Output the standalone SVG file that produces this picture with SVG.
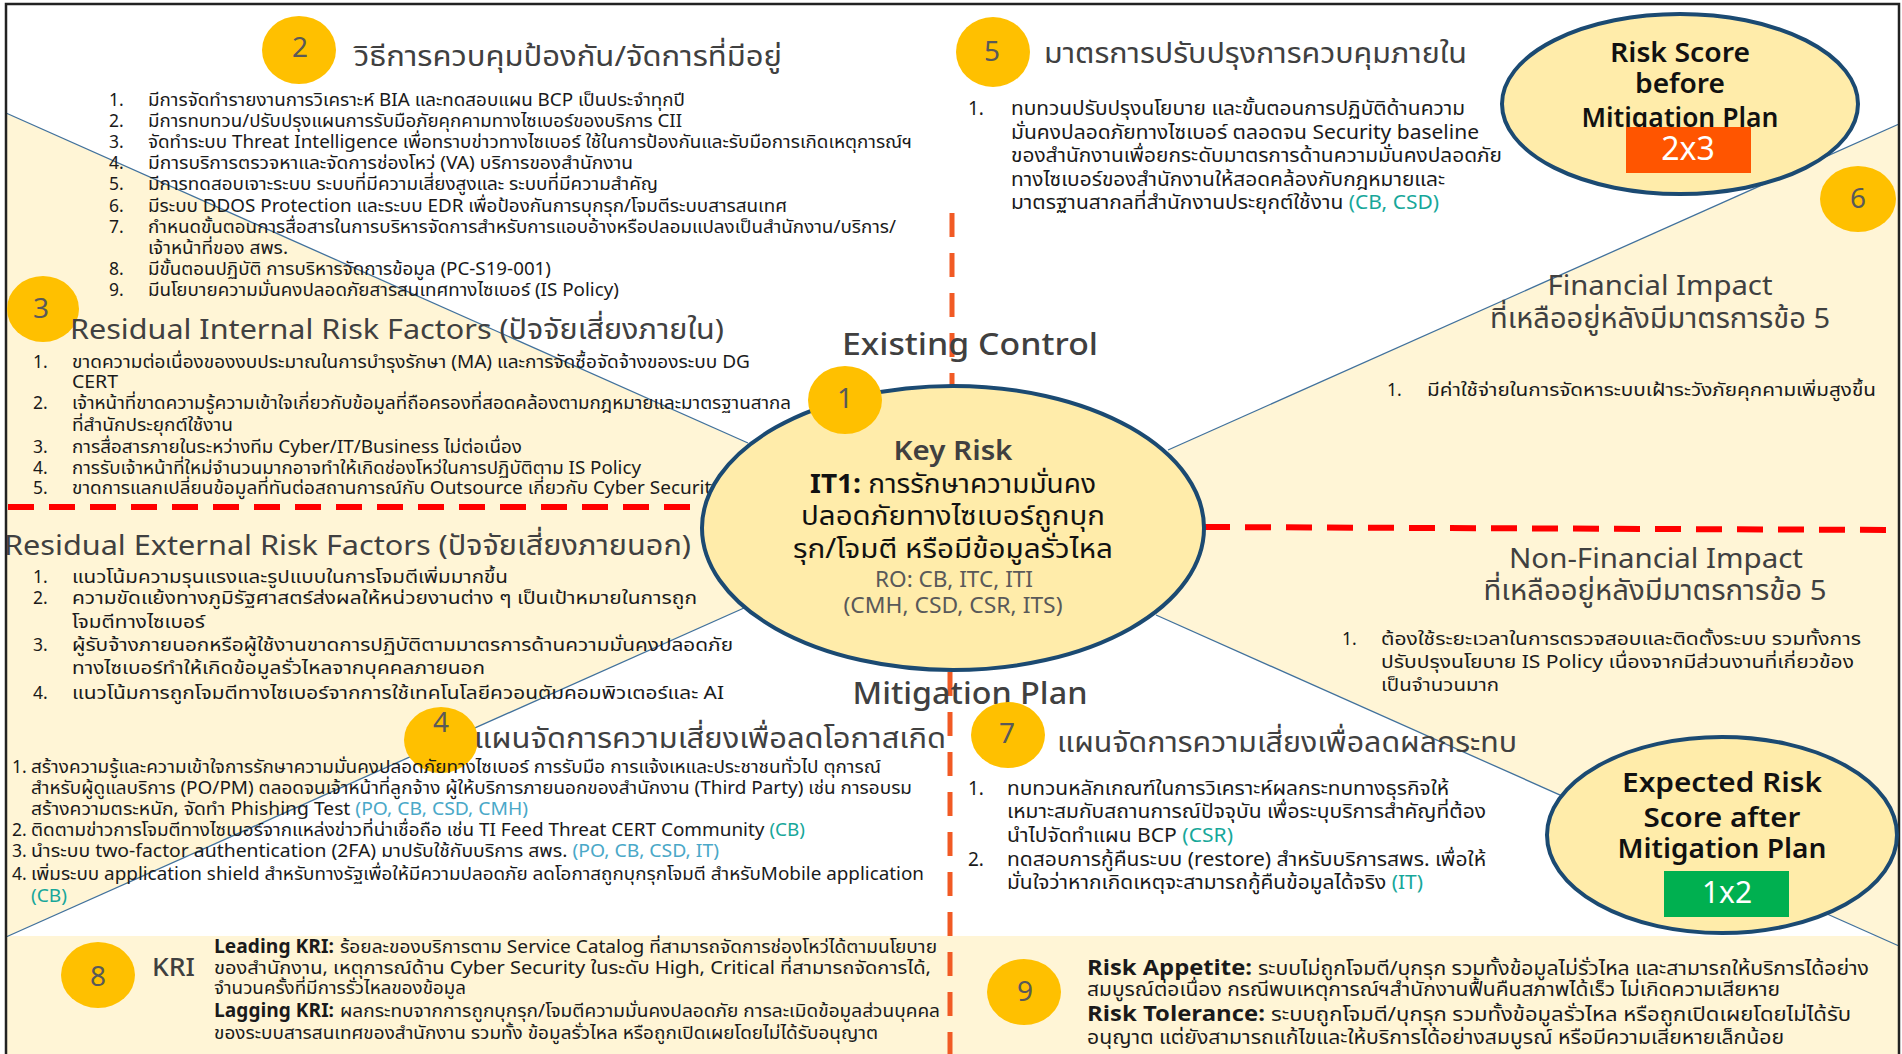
<svg xmlns="http://www.w3.org/2000/svg" width="1902" height="1054" viewBox="0 0 1902 1054">
<defs>
<style>
text{font-family:"Noto Sans Thai","Noto Sans","Liberation Sans",sans-serif}
.b{font-size:17.5px;fill:#1a1a1a}
.b19{font-size:19px;fill:#1a1a1a}
.ti{font-size:28px;fill:#404040}
.num{font-size:28px;fill:#595959;text-anchor:middle}
.c{text-anchor:middle}
.sc{font-size:27px;font-weight:600;fill:#111111;text-anchor:middle}
.teal{fill:#17A79A}
.blue{fill:#4AA8C8}
.gold{fill:#FFC000}
.thin{stroke:#41719C;stroke-width:1.3;fill:none}
.bigell{fill:#FFECAA;stroke:#1B4A72;stroke-width:4}
.red{stroke:#FF0000;stroke-width:6;stroke-dasharray:26 15;fill:none}
.ora{stroke:#F15A24;stroke-width:5;stroke-dasharray:24 16;fill:none}
</style>
</defs>
<rect x="0" y="0" width="1902" height="1054" fill="#FFFFFF"/>
<g id="backgrounds">
<polygon points="6,113 748,443 744,608 6,937" fill="#FFF5D6"/>
<polygon points="1168,450 1899,124 1899,946 1156,615" fill="#FFF5D6"/>
<rect x="6" y="936" width="1893" height="118" fill="#FFF5D6"/>
</g>
<g id="connectors">
<line class="thin" x1="6" y1="113" x2="748" y2="443"/>
<line class="thin" x1="744" y1="608" x2="6" y2="937"/>
<line class="thin" x1="1168" y1="450" x2="1899" y2="124"/>
<line class="thin" x1="1156" y1="615" x2="1899" y2="946"/>
<line class="red" x1="8" y1="507" x2="703" y2="507"/>
<line class="red" x1="1204" y1="527" x2="1892" y2="530"/>
<line class="ora" x1="952" y1="213" x2="952" y2="386"/>
<line class="ora" x1="950" y1="672" x2="950" y2="1054"/>
</g>
<rect x="6" y="4" width="1893" height="1060" fill="none" stroke="#222222" stroke-width="2.5"/>

<g id="node-section2">
<ellipse class="gold" cx="299" cy="50" rx="37" ry="34"/>
<text class="num" x="300" y="57">2</text>
<text class="ti" x="354" y="66" textLength="428" lengthAdjust="spacingAndGlyphs">วิธีการควบคุมป้องกัน/จัดการที่มีอยู่</text>
<text class="b" x="109" y="106">1.</text><text class="b" x="148" y="106" textLength="537" lengthAdjust="spacingAndGlyphs">มีการจัดทำรายงานการวิเคราะห์ BIA และทดสอบแผน BCP เป็นประจำทุกปี</text>
<text class="b" x="109" y="127">2.</text><text class="b" x="148" y="127" textLength="534" lengthAdjust="spacingAndGlyphs">มีการทบทวน/ปรับปรุงแผนการรับมือภัยคุกคามทางไซเบอร์ของบริการ CII</text>
<text class="b" x="109" y="148">3.</text><text class="b" x="148" y="148" textLength="764" lengthAdjust="spacingAndGlyphs">จัดทำระบบ Threat Intelligence เพื่อทราบข่าวทางไซเบอร์ ใช้ในการป้องกันและรับมือการเกิดเหตุการณ์ฯ</text>
<text class="b" x="109" y="169">4.</text><text class="b" x="148" y="169" textLength="485" lengthAdjust="spacingAndGlyphs">มีการบริการตรวจหาและจัดการช่องโหว่ (VA) บริการของสำนักงาน</text>
<text class="b" x="109" y="190">5.</text><text class="b" x="148" y="190" textLength="510" lengthAdjust="spacingAndGlyphs">มีการทดสอบเจาะระบบ ระบบที่มีความเสี่ยงสูงและ ระบบที่มีความสำคัญ</text>
<text class="b" x="109" y="212">6.</text><text class="b" x="148" y="212" textLength="639" lengthAdjust="spacingAndGlyphs">มีระบบ DDOS Protection และระบบ EDR เพื่อป้องกันการบุกรุก/โจมตีระบบสารสนเทศ</text>
<text class="b" x="109" y="233">7.</text><text class="b" x="148" y="233" textLength="748" lengthAdjust="spacingAndGlyphs">กำหนดขั้นตอนการสื่อสารในการบริหารจัดการสำหรับการแอบอ้างหรือปลอมแปลงเป็นสำนักงาน/บริการ/</text>
<text class="b" x="148" y="254" textLength="140" lengthAdjust="spacingAndGlyphs">เจ้าหน้าที่ของ สพร.</text>
<text class="b" x="109" y="275">8.</text><text class="b" x="148" y="275" textLength="403" lengthAdjust="spacingAndGlyphs">มีขั้นตอนปฏิบัติ การบริหารจัดการข้อมูล (PC-S19-001)</text>
<text class="b" x="109" y="296">9.</text><text class="b" x="148" y="296" textLength="471" lengthAdjust="spacingAndGlyphs">มีนโยบายความมั่นคงปลอดภัยสารสนเทศทางไซเบอร์ (IS Policy)</text>
</g>

<g id="node-section3">
<ellipse class="gold" cx="43" cy="309" rx="36" ry="33"/>
<text class="num" x="41" y="318">3</text>
<text class="ti" x="70" y="339" textLength="654" lengthAdjust="spacingAndGlyphs">Residual Internal Risk Factors (ปัจจัยเสี่ยงภายใน)</text>
<text class="b" x="33" y="368">1.</text><text class="b" x="72" y="368" textLength="678" lengthAdjust="spacingAndGlyphs">ขาดความต่อเนื่องของงบประมาณในการบำรุงรักษา (MA) และการจัดซื้อจัดจ้างของระบบ DG</text>
<text class="b" x="72" y="388" textLength="46" lengthAdjust="spacingAndGlyphs">CERT</text>
<text class="b" x="33" y="409">2.</text><text class="b" x="72" y="409" textLength="719" lengthAdjust="spacingAndGlyphs">เจ้าหน้าที่ขาดความรู้ความเข้าใจเกี่ยวกับข้อมูลที่ถือครองที่สอดคล้องตามกฎหมายและมาตรฐานสากล</text>
<text class="b" x="72" y="431" textLength="161" lengthAdjust="spacingAndGlyphs">ที่สำนักประยุกต์ใช้งาน</text>
<text class="b" x="33" y="453">3.</text><text class="b" x="72" y="453" textLength="450" lengthAdjust="spacingAndGlyphs">การสื่อสารภายในระหว่างทีม Cyber/IT/Business ไม่ต่อเนื่อง</text>
<text class="b" x="33" y="474">4.</text><text class="b" x="72" y="474" textLength="569" lengthAdjust="spacingAndGlyphs">การรับเจ้าหน้าที่ใหม่จำนวนมากอาจทำให้เกิดช่องโหว่ในการปฏิบัติตาม IS Policy</text>
<text class="b" x="33" y="494">5.</text><text class="b" x="72" y="494" textLength="649" lengthAdjust="spacingAndGlyphs">ขาดการแลกเปลี่ยนข้อมูลที่ทันต่อสถานการณ์กับ Outsource เกี่ยวกับ Cyber Security</text>
</g>

<g id="node-external">
<text class="ti" x="4" y="555" textLength="687" lengthAdjust="spacingAndGlyphs">Residual External Risk Factors (ปัจจัยเสี่ยงภายนอก)</text>
<text class="b" x="33" y="583">1.</text><text class="b" x="72" y="583" textLength="436" lengthAdjust="spacingAndGlyphs">แนวโน้มความรุนแรงและรูปแบบในการโจมตีเพิ่มมากขึ้น</text>
<text class="b" x="33" y="604">2.</text><text class="b" x="72" y="604" textLength="625" lengthAdjust="spacingAndGlyphs">ความขัดแย้งทางภูมิรัฐศาสตร์ส่งผลให้หน่วยงานต่าง ๆ เป็นเป้าหมายในการถูก</text>
<text class="b" x="72" y="628" textLength="133" lengthAdjust="spacingAndGlyphs">โจมตีทางไซเบอร์</text>
<text class="b" x="33" y="651">3.</text><text class="b" x="72" y="651" textLength="661" lengthAdjust="spacingAndGlyphs">ผู้รับจ้างภายนอกหรือผู้ใช้งานขาดการปฏิบัติตามมาตรการด้านความมั่นคงปลอดภัย</text>
<text class="b" x="72" y="674" textLength="413" lengthAdjust="spacingAndGlyphs">ทางไซเบอร์ทำให้เกิดข้อมูลรั่วไหลจากบุคคลภายนอก</text>
<text class="b" x="33" y="699">4.</text><text class="b" x="72" y="699" textLength="652" lengthAdjust="spacingAndGlyphs">แนวโน้มการถูกโจมตีทางไซเบอร์จากการใช้เทคโนโลยีควอนตัมคอมพิวเตอร์และ AI</text>
</g>

<g id="node-section4">
<ellipse class="gold" cx="441" cy="740" rx="37" ry="33"/>
<text class="num" x="441" y="732">4</text>
<text class="ti" x="474" y="748" textLength="472" lengthAdjust="spacingAndGlyphs">แผนจัดการความเสี่ยงเพื่อลดโอกาสเกิด</text>
<text class="b" x="12" y="773">1.</text><text class="b" x="31" y="773" textLength="850" lengthAdjust="spacingAndGlyphs">สร้างความรู้และความเข้าใจการรักษาความมั่นคงปลอดภัยทางไซเบอร์ การรับมือ การแจ้งเหและประชาชนทั่วไป ตุการณ์</text>
<text class="b" x="31" y="794" textLength="881" lengthAdjust="spacingAndGlyphs">สำหรับผู้ดูแลบริการ (PO/PM) ตลอดจนเจ้าหน้าที่ลูกจ้าง ผู้ให้บริการภายนอกของสำนักงาน (Third Party) เช่น การอบรม</text>
<text class="b" x="31" y="815" textLength="497" lengthAdjust="spacingAndGlyphs">สร้างความตระหนัก, จัดทำ Phishing Test  <tspan class="blue">(PO, CB, CSD, CMH)</tspan></text>
<text class="b" x="12" y="836">2.</text><text class="b" x="31" y="836" textLength="774" lengthAdjust="spacingAndGlyphs">ติดตามข่าวการโจมตีทางไซเบอร์จากแหล่งข่าวที่น่าเชื่อถือ เช่น TI Feed Threat CERT Community <tspan class="teal">(CB)</tspan></text>
<text class="b" x="12" y="857">3.</text><text class="b" x="31" y="857" textLength="688" lengthAdjust="spacingAndGlyphs">นำระบบ  two-factor authentication  (2FA) มาปรับใช้กับบริการ สพร. <tspan class="blue">(PO, CB, CSD, IT)</tspan></text>
<text class="b" x="12" y="880">4.</text><text class="b" x="31" y="880" textLength="893" lengthAdjust="spacingAndGlyphs">เพิ่มระบบ application shield สำหรับทางรัฐเพื่อให้มีความปลอดภัย ลดโอกาสถูกบุกรุกโจมตี สำหรับMobile application</text>
<text class="b teal" x="31" y="902" textLength="36" lengthAdjust="spacingAndGlyphs">(CB)</text>
</g>

<g id="node-section5">
<ellipse class="gold" cx="993" cy="52" rx="37" ry="35"/>
<text class="num" x="992" y="61">5</text>
<text class="ti" x="1044" y="63" textLength="423" lengthAdjust="spacingAndGlyphs">มาตรการปรับปรุงการควบคุมภายใน</text>
<text class="b19" x="968" y="115">1.</text><text class="b19" x="1011" y="115" textLength="454" lengthAdjust="spacingAndGlyphs">ทบทวนปรับปรุงนโยบาย และขั้นตอนการปฏิบัติด้านความ</text>
<text class="b19" x="1011" y="139" textLength="468" lengthAdjust="spacingAndGlyphs">มั่นคงปลอดภัยทางไซเบอร์ ตลอดจน Security baseline</text>
<text class="b19" x="1011" y="162" textLength="491" lengthAdjust="spacingAndGlyphs">ของสำนักงานเพื่อยกระดับมาตรการด้านความมั่นคงปลอดภัย</text>
<text class="b19" x="1011" y="186" textLength="434" lengthAdjust="spacingAndGlyphs">ทางไซเบอร์ของสำนักงานให้สอดคล้องกับกฎหมายและ</text>
<text class="b19" x="1011" y="209" textLength="428" lengthAdjust="spacingAndGlyphs">มาตรฐานสากลที่สำนักงานประยุกต์ใช้งาน <tspan class="teal">(CB, CSD)</tspan></text>
</g>

<g id="node-riskbefore">
<ellipse class="bigell" cx="1680" cy="104" rx="178" ry="90"/>
<text class="sc" x="1680" y="62" textLength="140" lengthAdjust="spacingAndGlyphs">Risk Score</text>
<text class="sc" x="1680" y="93" textLength="90" lengthAdjust="spacingAndGlyphs">before</text>
<text class="sc" x="1680" y="127" textLength="197" lengthAdjust="spacingAndGlyphs">Mitigation Plan</text>
<rect x="1626" y="127" width="125" height="46" fill="#FF5500"/>
<text class="c" x="1688" y="160" font-size="32" fill="#FFFFFF">2x3</text>
</g>

<g id="node-section6">
<ellipse class="gold" cx="1858" cy="199" rx="38" ry="33"/>
<text class="num" x="1858" y="208">6</text>
<text class="ti c" x="1660" y="295" textLength="225" lengthAdjust="spacingAndGlyphs">Financial Impact</text>
<text class="ti c" x="1660" y="328" textLength="340" lengthAdjust="spacingAndGlyphs">ที่เหลืออยู่หลังมีมาตรการข้อ 5</text>
<text class="b" x="1387" y="396">1.</text><text class="b" x="1427" y="396" textLength="449" lengthAdjust="spacingAndGlyphs">มีค่าใช้จ่ายในการจัดหาระบบเฝ้าระวังภัยคุกคามเพิ่มสูงขึ้น</text>
<text class="ti c" x="1656" y="568" textLength="294" lengthAdjust="spacingAndGlyphs">Non-Financial Impact</text>
<text class="ti c" x="1655" y="600" textLength="343" lengthAdjust="spacingAndGlyphs">ที่เหลืออยู่หลังมีมาตรการข้อ 5</text>
<text class="b" x="1342" y="645">1.</text><text class="b" x="1381" y="645" textLength="480" lengthAdjust="spacingAndGlyphs">ต้องใช้ระยะเวลาในการตรวจสอบและติดตั้งระบบ รวมทั้งการ</text>
<text class="b" x="1381" y="668" textLength="473" lengthAdjust="spacingAndGlyphs">ปรับปรุงนโยบาย IS Policy เนื่องจากมีส่วนงานที่เกี่ยวข้อง</text>
<text class="b" x="1381" y="691" textLength="118" lengthAdjust="spacingAndGlyphs">เป็นจำนวนมาก</text>
</g>

<g id="node-keyrisk">
<ellipse class="bigell" cx="953" cy="528" rx="251" ry="142"/>
<ellipse class="gold" cx="845" cy="400" rx="37" ry="34"/>
<text class="num" x="845" y="408">1</text>
<text class="c" x="953" y="460" font-size="27" font-weight="600" fill="#404040" textLength="119" lengthAdjust="spacingAndGlyphs">Key Risk</text>
<text class="c" x="953" y="493" font-size="27" fill="#111" textLength="286" lengthAdjust="spacingAndGlyphs"><tspan font-weight="700">IT1:</tspan> การรักษาความมั่นคง</text>
<text class="c" x="953" y="525" font-size="27" fill="#111" textLength="304" lengthAdjust="spacingAndGlyphs">ปลอดภัยทางไซเบอร์ถูกบุก</text>
<text class="c" x="953" y="558" font-size="27" fill="#111" textLength="320" lengthAdjust="spacingAndGlyphs">รุก/โจมตี หรือมีข้อมูลรั่วไหล</text>
<text class="c" x="954" y="587" font-size="21" fill="#595959" textLength="158" lengthAdjust="spacingAndGlyphs">RO: CB, ITC, ITI</text>
<text class="c" x="953" y="613" font-size="21" fill="#595959" textLength="219" lengthAdjust="spacingAndGlyphs">(CMH, CSD, CSR, ITS)</text>
</g>

<g id="node-labels">
<text class="c" x="970" y="355" font-size="30" font-weight="500" fill="#404040" textLength="256" lengthAdjust="spacingAndGlyphs">Existing Control</text>
<text class="c" x="970" y="704" font-size="30" font-weight="500" fill="#404040" textLength="235" lengthAdjust="spacingAndGlyphs">Mitigation Plan</text>
</g>

<g id="node-section7">
<ellipse class="gold" cx="1008" cy="735" rx="37" ry="33"/>
<text class="num" x="1007" y="743">7</text>
<text class="ti" x="1057" y="752" textLength="460" lengthAdjust="spacingAndGlyphs">แผนจัดการความเสี่ยงเพื่อลดผลกระทบ</text>
<text class="b19" x="968" y="795">1.</text><text class="b19" x="1007" y="795" textLength="442" lengthAdjust="spacingAndGlyphs">ทบทวนหลักเกณฑ์ในการวิเคราะห์ผลกระทบทางธุรกิจให้</text>
<text class="b19" x="1007" y="818" textLength="479" lengthAdjust="spacingAndGlyphs">เหมาะสมกับสถานการณ์ปัจจุบัน เพื่อระบุบริการสำคัญที่ต้อง</text>
<text class="b19" x="1007" y="842" textLength="226" lengthAdjust="spacingAndGlyphs">นำไปจัดทำแผน BCP <tspan class="teal">(CSR)</tspan></text>
<text class="b19" x="968" y="866">2.</text><text class="b19" x="1007" y="866" textLength="479" lengthAdjust="spacingAndGlyphs">ทดสอบการกู้คืนระบบ (restore) สำหรับบริการสพร. เพื่อให้</text>
<text class="b19" x="1007" y="889" textLength="416" lengthAdjust="spacingAndGlyphs">มั่นใจว่าหากเกิดเหตุจะสามารถกู้คืนข้อมูลได้จริง <tspan class="teal">(IT)</tspan></text>
</g>

<g id="node-riskafter">
<ellipse class="bigell" cx="1722" cy="835" rx="175" ry="98"/>
<text class="sc" x="1722" y="792" textLength="200" lengthAdjust="spacingAndGlyphs">Expected Risk</text>
<text class="sc" x="1722" y="827" textLength="157" lengthAdjust="spacingAndGlyphs">Score after</text>
<text class="sc" x="1722" y="858" textLength="209" lengthAdjust="spacingAndGlyphs">Mitigation Plan</text>
<rect x="1664" y="871" width="125" height="46" fill="#00B050"/>
<text class="c" x="1727" y="903" font-size="30" fill="#FFFFFF">1x2</text>
</g>

<g id="node-section8">
<ellipse class="gold" cx="98" cy="975" rx="37" ry="33"/>
<text class="num" x="98" y="986">8</text>
<text x="152" y="976" font-size="26" font-weight="500" fill="#404040" textLength="43" lengthAdjust="spacingAndGlyphs">KRI</text>
<text x="214" y="953" font-size="19" font-weight="700" fill="#1a1a1a" textLength="120" lengthAdjust="spacingAndGlyphs">Leading KRI:</text>
<text class="b" x="340" y="953" textLength="597" lengthAdjust="spacingAndGlyphs">ร้อยละของบริการตาม Service Catalog ที่สามารถจัดการช่องโหว่ได้ตามนโยบาย</text>
<text class="b" x="214" y="974" textLength="717" lengthAdjust="spacingAndGlyphs">ของสำนักงาน, เหตุการณ์ด้าน Cyber Security ในระดับ High, Critical ที่สามารถจัดการได้,</text>
<text class="b" x="214" y="994" textLength="252" lengthAdjust="spacingAndGlyphs">จำนวนครั้งที่มีการรั่วไหลของข้อมูล</text>
<text x="214" y="1017" font-size="19" font-weight="700" fill="#1a1a1a" textLength="120" lengthAdjust="spacingAndGlyphs">Lagging KRI:</text>
<text class="b" x="340" y="1017" textLength="600" lengthAdjust="spacingAndGlyphs">ผลกระทบจากการถูกบุกรุก/โจมตีความมั่นคงปลอดภัย การละเมิดข้อมูลส่วนบุคคล</text>
<text class="b" x="214" y="1039" textLength="664" lengthAdjust="spacingAndGlyphs">ของระบบสารสนเทศของสำนักงาน รวมทั้ง ข้อมูลรั่วไหล หรือถูกเปิดเผยโดยไม่ได้รับอนุญาต</text>
</g>

<g id="node-section9">
<ellipse class="gold" cx="1024" cy="992" rx="37" ry="33"/>
<text class="num" x="1025" y="1001">9</text>
<text x="1087" y="975" font-size="22" font-weight="700" fill="#1a1a1a" textLength="165" lengthAdjust="spacingAndGlyphs">Risk Appetite:</text>
<text class="b19" x="1258" y="975" textLength="611" lengthAdjust="spacingAndGlyphs">ระบบไม่ถูกโจมตี/บุกรุก รวมทั้งข้อมูลไม่รั่วไหล และสามารถให้บริการได้อย่าง</text>
<text class="b19" x="1087" y="996" textLength="693" lengthAdjust="spacingAndGlyphs">สมบูรณ์ต่อเนื่อง กรณีพบเหตุการณ์ฯสำนักงานฟื้นคืนสภาพได้เร็ว ไม่เกิดความเสียหาย</text>
<text x="1087" y="1021" font-size="22" font-weight="700" fill="#1a1a1a" textLength="178" lengthAdjust="spacingAndGlyphs">Risk Tolerance:</text>
<text class="b19" x="1271" y="1021" textLength="580" lengthAdjust="spacingAndGlyphs">ระบบถูกโจมตี/บุกรุก รวมทั้งข้อมูลรั่วไหล หรือถูกเปิดเผยโดยไม่ได้รับ</text>
<text class="b19" x="1087" y="1044" textLength="697" lengthAdjust="spacingAndGlyphs">อนุญาต แต่ยังสามารถแก้ไขและให้บริการได้อย่างสมบูรณ์ หรือมีความเสียหายเล็กน้อย</text>
</g>
</svg>
